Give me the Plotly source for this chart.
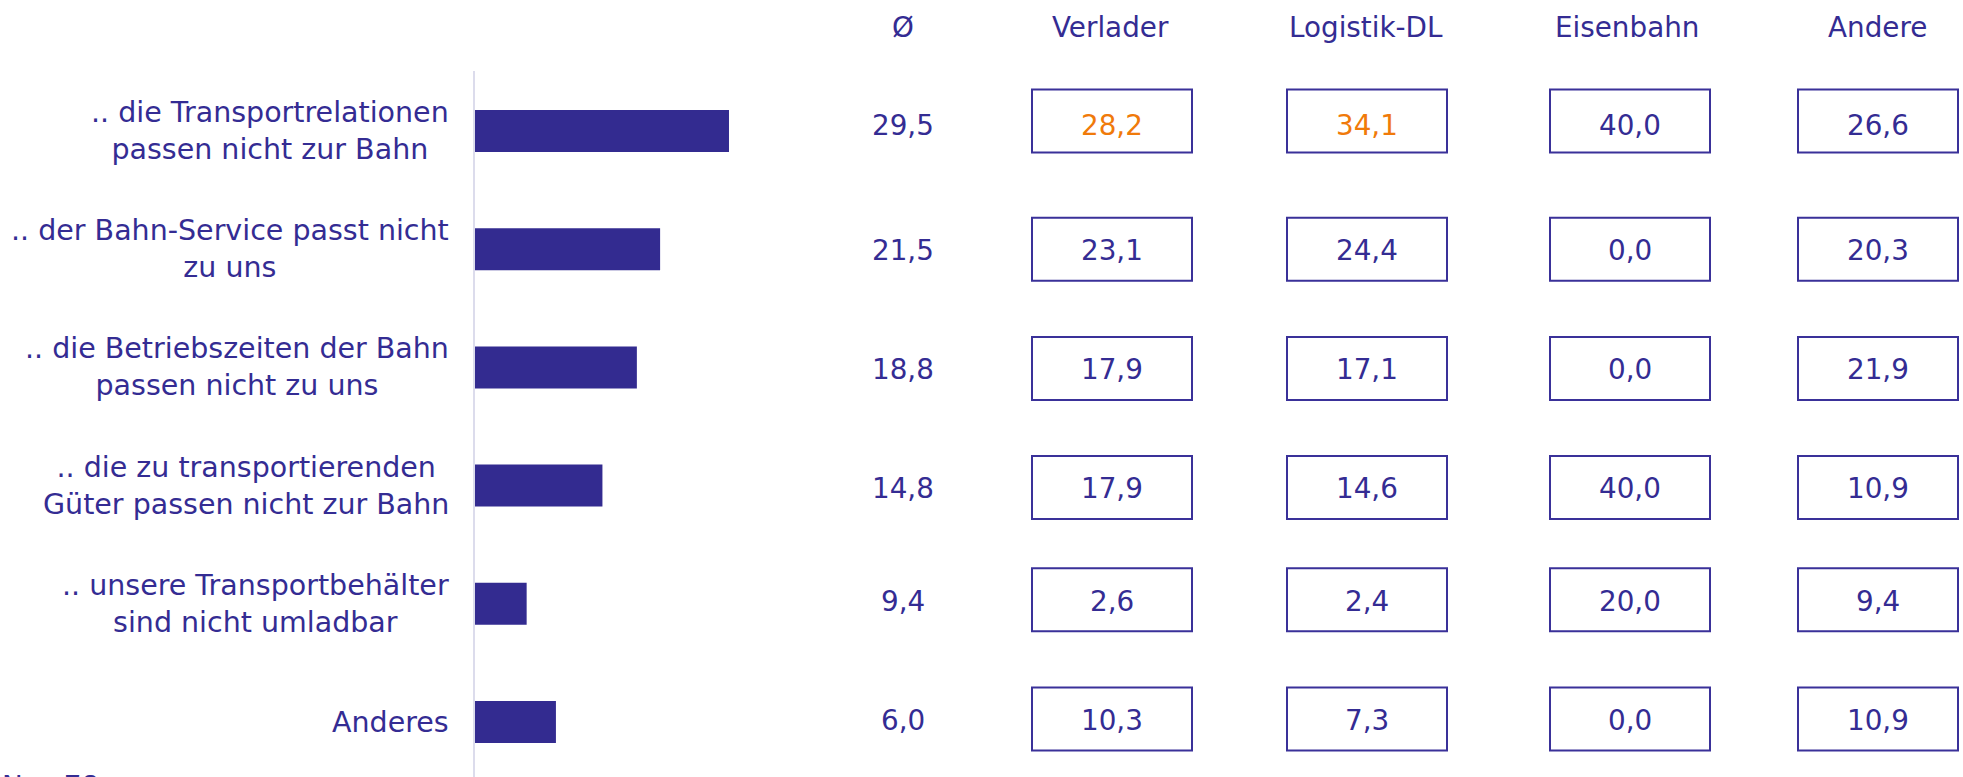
import plotly.graph_objects as go

# ---------------- data ----------------
categories = [
    ".. die Transportrelationen<br>passen nicht zur Bahn",
    ".. der Bahn-Service passt nicht<br>zu uns",
    ".. die Betriebszeiten der Bahn<br>passen nicht zu uns",
    ".. die zu transportierenden<br>Güter passen nicht zur Bahn",
    ".. unsere Transportbehälter<br>sind nicht umladbar",
    "Anderes",
]
bar_values = [29.5, 21.5, 18.8, 14.8, 6.0, 9.4]      # bar lengths as drawn
avg_values = [29.5, 21.5, 18.8, 14.8, 9.4, 6.0]      # printed Ø column
avg_header = "Ø"
groups = ["Verlader", "Logistik-DL", "Eisenbahn", "Andere"]
verlader = [28.2, 23.1, 17.9, 17.9, 2.6, 10.3]
logistik_dl = [34.1, 24.4, 17.1, 14.6, 2.4, 7.3]
eisenbahn = [40.0, 0.0, 0.0, 40.0, 20.0, 0.0]
andere = [26.6, 20.3, 21.9, 10.9, 9.4, 10.9]
highlighted = [("Verlader", 0), ("Logistik-DL", 0)]
sample_note = "N = 78"

# ---------------- styling / layout ----------------
W, H = 1963, 777
INDIGO = "#342C93"
BAR = "#332B90"
ORANGE = "#F07A0A"
BOX_LINE = "#3A3199"
AXIS_LINE = "#DCDCEC"
FONT = "DejaVu Sans"
FS = 27.8
FS_LABEL = 28.5

row_px = 118.2          # pixel distance between rows
first_row_px = 131      # pixel y of first row centre
axis_top_px = 71
x0_px, px_per_unit = 475, 8.61
xmax = 40

group_cols = [verlader, logistik_dl, eisenbahn, andere]
group_x_px = [1112, 1367, 1630, 1878]
header_x_px = [1110, 1366, 1627, 1877]
avg_x_px = 903
label_right_px = 451
box_w_px, box_h_px = 160, 63
box_nudge_px = [-10, 0, 1, 2, -4, -3]
text_nudge_px = [-6, 1, 2, 3, -2, -2]


def px(x):
    return x / W


def py(y):
    return 1 - y / H


def fmt(v):
    return f"{v:.1f}".replace(".", ",")


fig = go.Figure()
fig.add_trace(go.Bar(
    x=bar_values, y=categories, orientation="h", width=0.355,
    marker=dict(color=BAR, line=dict(width=0)), hoverinfo="skip",
))

y_top = (axis_top_px - first_row_px) / row_px
y_bot = (H - first_row_px) / row_px

annotations = []
shapes = []

# category labels
for c in categories:
    annotations.append(dict(
        x=px(label_right_px), xref="paper", xanchor="right",
        y=c, yref="y", yanchor="middle", text=c, showarrow=False,
        align="center", font=dict(family=FONT, size=FS_LABEL, color=INDIGO),
    ))

# headers
annotations.append(dict(
    x=px(avg_x_px), xref="paper", y=py(27), yref="paper", text=avg_header,
    showarrow=False, xanchor="center", yanchor="middle",
    font=dict(family=FONT, size=FS, color=INDIGO),
))
for g, hx in zip(groups, header_x_px):
    annotations.append(dict(
        x=px(hx), xref="paper", y=py(27), yref="paper", text=g,
        showarrow=False, xanchor="center", yanchor="middle",
        font=dict(family=FONT, size=FS, color=INDIGO),
    ))

# average column
for i, (c, v) in enumerate(zip(categories, avg_values)):
    annotations.append(dict(
        x=px(avg_x_px), xref="paper", y=c, yref="y", text=fmt(v),
        showarrow=False, xanchor="center", yanchor="middle",
        yshift=-text_nudge_px[i],
        font=dict(family=FONT, size=FS, color=INDIGO),
    ))

# group boxes
for g, col, gx in zip(groups, group_cols, group_x_px):
    for i, (c, v) in enumerate(zip(categories, col)):
        off = box_nudge_px[i] / row_px
        hh = box_h_px / 2 / row_px
        shapes.append(dict(
            type="rect", xref="paper", yref="y",
            x0=px(gx - box_w_px / 2), x1=px(gx + box_w_px / 2),
            y0=i + off - hh, y1=i + off + hh,
            line=dict(color=BOX_LINE, width=2), fillcolor="white", layer="below",
        ))
        color = ORANGE if (g, i) in highlighted else INDIGO
        annotations.append(dict(
            x=px(gx), xref="paper", y=c, yref="y", text=fmt(v),
            showarrow=False, xanchor="center", yanchor="middle",
            yshift=-text_nudge_px[i],
            font=dict(family=FONT, size=FS, color=color),
        ))

# sample size note (cut at bottom edge, as in the reference)
annotations.append(dict(
    x=0, xref="paper", xanchor="left", y=py(768), yref="paper", yanchor="top",
    text=sample_note, showarrow=False,
    font=dict(family=FONT, size=FS, color=INDIGO),
))

fig.update_layout(
    width=W, height=H,
    margin=dict(l=0, r=0, t=0, b=0),
    paper_bgcolor="white", plot_bgcolor="white",
    showlegend=False,
    xaxis=dict(domain=[px(x0_px), px(x0_px + xmax * px_per_unit)], range=[0, xmax],
               showgrid=False, zeroline=False, showline=False,
               showticklabels=False, ticks=""),
    yaxis=dict(domain=[0, py(axis_top_px)], type="category",
               categoryorder="array", categoryarray=categories,
               range=[y_bot, y_top], showgrid=False, zeroline=False,
               showline=True, linecolor=AXIS_LINE, linewidth=2,
               showticklabels=False, ticks=""),
    annotations=annotations,
    shapes=shapes,
    font=dict(family=FONT, color=INDIGO),
)

fig.write_html(
    "out.html",
    config={"displayModeBar": False},
    post_script="document.body.style.margin='0';document.body.style.overflow='hidden';",
)
